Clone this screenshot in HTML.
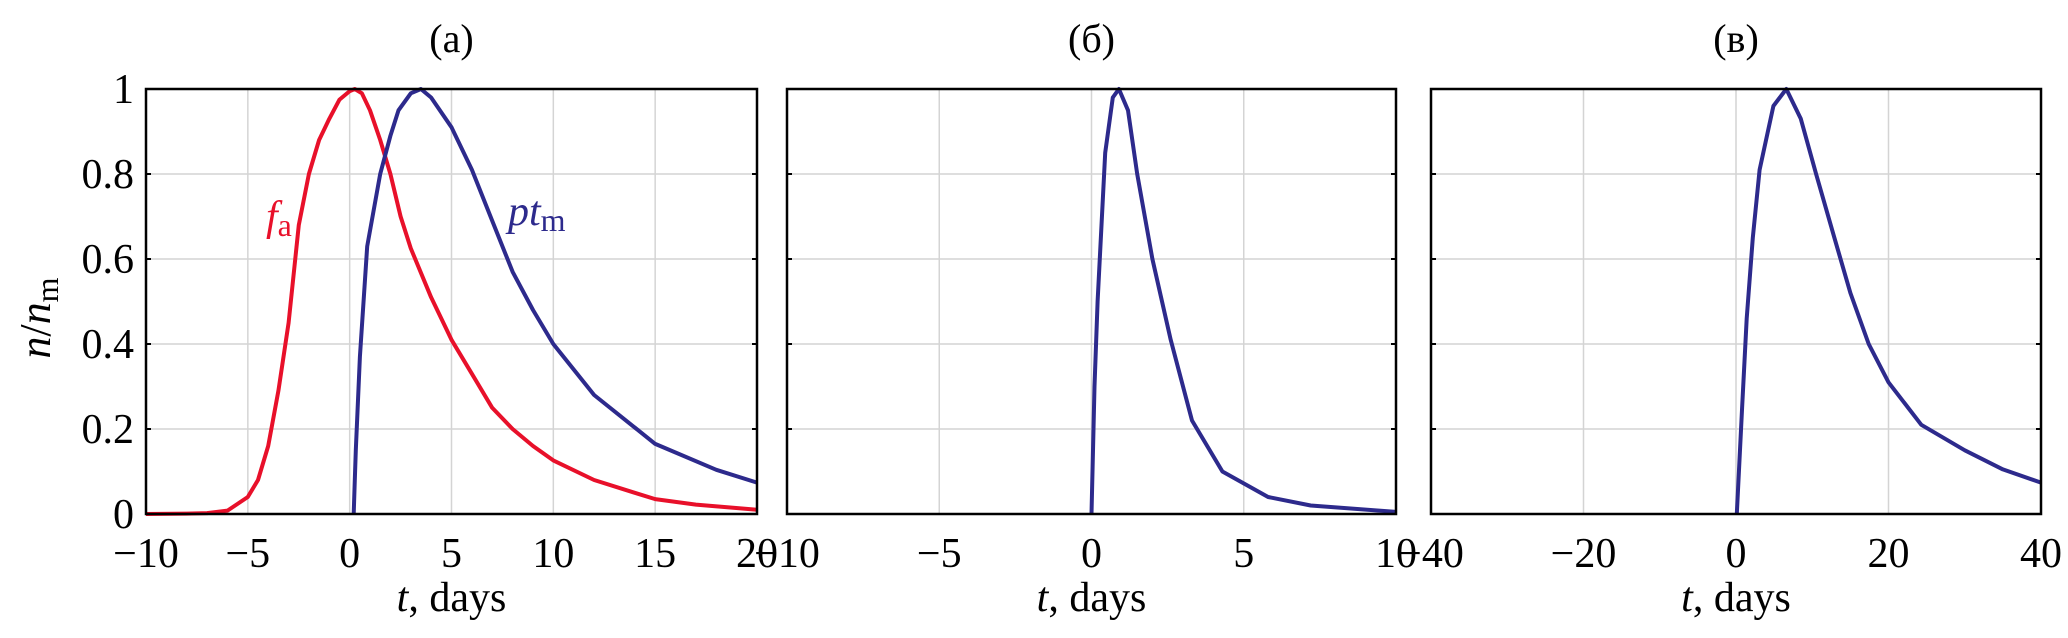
<!DOCTYPE html>
<html><head><meta charset="utf-8"><style>
html,body{margin:0;padding:0;background:#fff;}
svg{display:block;font-family:"Liberation Serif",serif;}
</style></head><body>
<svg id="chart" width="2068" height="638" viewBox="0 0 2068 638" xmlns="http://www.w3.org/2000/svg"></svg>
<script>
// Panel (a)
const aTicksX = [-10,-5,0,5,10,15,20];
const aRedT = [-10,-8,-7,-6,-5,-4.5,-4,-3.5,-3,-2.5,-2,-1.5,-1,-0.5,0,0.25,0.6,1,1.5,2,2.5,3,4,5,6,7,8,9,10,12,14,15,17,20];
const aRedV = [0,0.001,0.002,0.008,0.04,0.08,0.16,0.29,0.45,0.68,0.8,0.88,0.93,0.975,0.995,1,0.99,0.95,0.88,0.8,0.7,0.625,0.51,0.41,0.33,0.25,0.2,0.16,0.126,0.08,0.05,0.035,0.022,0.01];
const aBlueT = [0.2,0.25,0.3,0.5,0.86,1.5,2,2.4,3,3.5,4,5,6,7,8,9,10,12,15,18,20];
const aBlueV = [0,0.08,0.15,0.37,0.63,0.8,0.89,0.95,0.99,1,0.98,0.91,0.81,0.69,0.57,0.48,0.40,0.28,0.165,0.104,0.074];
// Panel (b)
const bTicksX = [-10,-5,0,5,10];
const bBlueT = [0,0.1,0.2,0.45,0.7,0.9,1.2,1.5,2,2.6,3.3,4.3,5.8,7.2,10];
const bBlueV = [0,0.3,0.5,0.85,0.98,1,0.95,0.8,0.6,0.41,0.22,0.1,0.04,0.02,0.005];
// Panel (c)
const cTicksX = [-40,-20,0,20,40];
const cBlueT = [0.1,0.8,1.4,2.2,3.1,4.9,6.6,8.5,10.5,12.9,15,17.4,20,24.3,30,35,40];
const cBlueV = [0,0.25,0.46,0.65,0.81,0.96,1,0.93,0.8,0.65,0.52,0.4,0.31,0.21,0.15,0.105,0.074];
const yTicks = [0,0.2,0.4,0.6,0.8,1];
const yTickLabels = ["0","0.2","0.4","0.6","0.8","1"];

const NS = "http://www.w3.org/2000/svg";
const svgEl = document.getElementById('chart');
function mk(tag, attrs, parent){const e=document.createElementNS(NS,tag);for(const k in attrs)e.setAttribute(k,attrs[k]);(parent||svgEl).appendChild(e);return e;}
const plotTop=89,plotBottom=514;
function yS(v){return plotBottom-(plotBottom-plotTop)*v;}

function panel(name,x0,x1,xmin,xmax,ticks,title,showY,series){
  const g=mk('g',{});
  
  
  const xS=t=>x0+(x1-x0)*(t-xmin)/(xmax-xmin);
  ticks.forEach(t=>{
    const l=mk('line',{x1:xS(t),x2:xS(t),y1:plotTop,y2:plotBottom,stroke:'#d4d4d4','stroke-width':1.5},g);
    
    
    const tx=mk('text',{x:xS(t),y:567,'font-size':42,'text-anchor':'middle'},g);
    
    
    tx.textContent=(t<0?'\u2212'+(-t):String(t));
  });
  yTicks.forEach((v,i)=>{
    const l=mk('line',{x1:x0,x2:x1,y1:yS(v),y2:yS(v),stroke:'#d4d4d4','stroke-width':1.5},g);
    
    
    mk('line',{x1:x0,x2:x0+5,y1:yS(v),y2:yS(v),stroke:'#000','stroke-width':2},g);
    mk('line',{x1:x1-5,x2:x1,y1:yS(v),y2:yS(v),stroke:'#000','stroke-width':2},g);
    if(showY){
      const tx=mk('text',{x:x0-12,y:yS(v)+14,'font-size':42,'text-anchor':'end'},g);
      
      
      tx.textContent=yTickLabels[i];
    }
  });
  series.forEach(s=>{
    const d=s.t.map((t,i)=>(i?'L':'M')+xS(t).toFixed(1)+','+yS(s.v[i]).toFixed(1)).join(' ');
    const p=mk('path',{d:d,fill:'none',stroke:s.c,'stroke-width':4,'stroke-linejoin':'round'},g);
    
    
  });
  const r=mk('rect',{x:x0,y:plotTop,width:x1-x0,height:plotBottom-plotTop,fill:'none',stroke:'#000','stroke-width':2.5},g);
  
  
  const tt=mk('text',{x:(x0+x1)/2,y:52,'font-size':40,'text-anchor':'middle'},g);
  
  
  tt.textContent=title;
  const xl=mk('text',{x:(x0+x1)/2,y:611,'font-size':42,'text-anchor':'middle'},g);
  
  
  xl.innerHTML='<tspan font-style="italic">t</tspan>, days';
}
panel('a',146,757,-10,20,aTicksX,'(a)',true,[
  {t:aRedT,v:aRedV,c:'#e8102a',n:'fa-curve'},
  {t:aBlueT,v:aBlueV,c:'#2d2a8c',n:'ptm-curve-a'}]);
panel('b',787,1396,-10,10,bTicksX,'(б)',false,[{t:bBlueT,v:bBlueV,c:'#2d2a8c',n:'ptm-curve-b'}]);
panel('c',1431,2041,-40,40,cTicksX,'(в)',false,[{t:cBlueT,v:cBlueV,c:'#2d2a8c',n:'ptm-curve-c'}]);

const yl=mk('text',{transform:'translate(50,318) rotate(-90)','font-size':44,'text-anchor':'middle'});


yl.innerHTML='<tspan font-style="italic">n</tspan>/<tspan font-style="italic">n</tspan><tspan font-size="32" dy="8">m</tspan>';
const la=mk('text',{x:266,y:230,'font-size':42,fill:'#e8102a'});


la.innerHTML='<tspan font-style="italic">f</tspan><tspan font-size="32" dy="6">a</tspan>';
const lb=mk('text',{x:508,y:225,'font-size':42,fill:'#2d2a8c'});


lb.innerHTML='<tspan font-style="italic">pt</tspan><tspan font-size="32" dy="6">m</tspan>';
</script>
</body></html>
